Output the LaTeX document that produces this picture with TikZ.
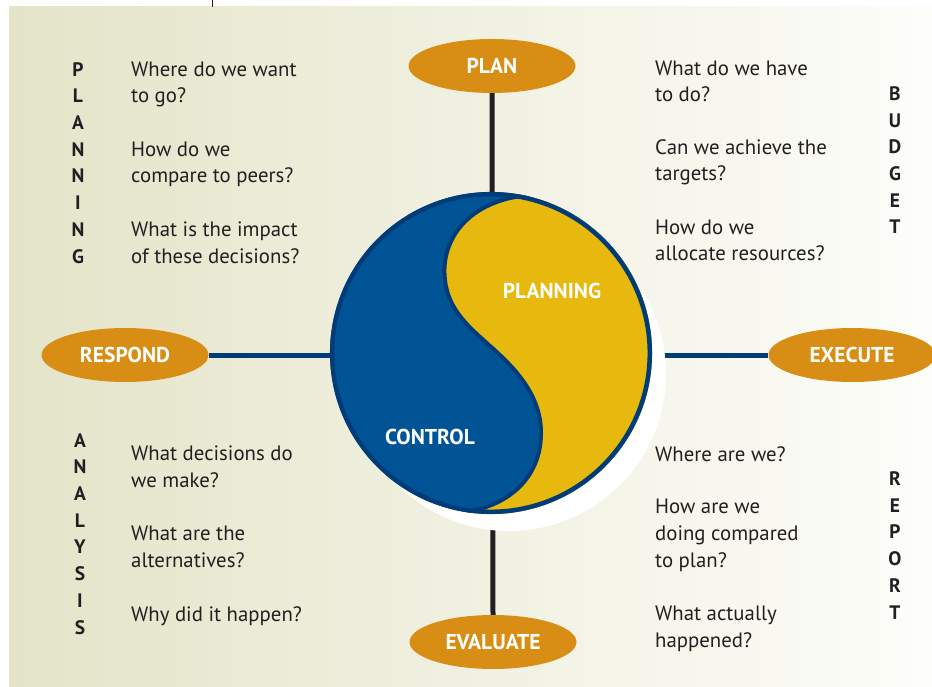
\documentclass[tikz,border=0pt]{standalone}
\usepackage{fontspec}
\setmainfont{PT Sans}
\usetikzlibrary{shapes.geometric}
\definecolor{bluec}{RGB}{0,84,150}
\definecolor{outl}{RGB}{0,61,120}
\definecolor{yellowc}{RGB}{231,184,13}
\definecolor{orangec}{RGB}{216,142,20}
\definecolor{textc}{RGB}{35,31,32}
\definecolor{bgl}{RGB}{228,228,201}
\definecolor{bgr}{RGB}{253,253,250}
\begin{document}
\begin{tikzpicture}[x=1pt,y=-1pt,
  lbl/.style={font=\bfseries\fontsize{21.5}{24}\selectfont, text=white},
  oval/.style={ellipse, fill=orangec, minimum width=167pt, minimum height=54pt, inner sep=0pt, lbl},
  qq/.style={anchor=base west, align=left, font=\fontsize{20.8}{26.7}\selectfont, text=textc, inner sep=0pt},
  col/.style={anchor=base, align=center, font=\bfseries\fontsize{19.5}{26.7}\selectfont, text=textc, inner sep=0pt},
  vline/.style={draw=textc, line width=5pt},
  hline/.style={draw=outl, line width=5pt}]
\useasboundingbox (0,0) rectangle (932,687);
\fill[white] (0,0) rectangle (932,687);
\shade[left color=bgl, right color=bgr] (9,7) rectangle (932,687);
\draw[line width=0.8pt, textc] (212,0) -- (212,7);

% ovals
\node[oval] (plan) at (492,66) {PLAN};
\node[oval] (respond) at (125,355) {RESPOND};
\node[oval] (execute) at (852,355) {EXECUTE};
\node[oval] (evaluate) at (493,642) {EVALUATE};

% connectors
\draw[vline] (plan.south) -- (evaluate.north);
\draw[hline] (respond.east) -- (execute.west);

% yin-yang circle
\fill[white] (509,374) circle[radius=157];
\fill[bluec] (491,353) circle[radius=161];
\begin{scope}
\clip (491,353) circle[radius=161];
\fill[yellowc] (530,195) .. controls (468,200) and (440,240) .. (445,280)
  .. controls (448,310) and (470,328) .. (490,346)
  .. controls (515,368) and (541,395) .. (541,433)
  .. controls (541,480) and (505,508) .. (462,512)
  -- (462,600) -- (700,600) -- (700,100) -- (530,100) -- cycle;
\draw[outl, line width=4pt] (530,195) .. controls (468,200) and (440,240) .. (445,280)
  .. controls (448,310) and (470,328) .. (490,346)
  .. controls (515,368) and (541,395) .. (541,433)
  .. controls (541,480) and (505,508) .. (462,512);
\end{scope}
\draw[outl, line width=4.5pt] (491,353) circle[radius=158.8];
\node[lbl] (planning) at (552,291) {PLANNING};
\node[lbl] (control) at (430,437) {CONTROL};

% letter columns (base = last line)
\node[col] (cplanning) at (78,263) {P\\L\\A\\N\\N\\I\\N\\G};
\node[col] (cbudget) at (895,234) {B\\U\\D\\G\\E\\T};
\node[col] (canalysis) at (80,634) {A\\N\\A\\L\\Y\\S\\I\\S};
\node[col] (creport) at (895,619) {R\\E\\P\\O\\R\\T};

% questions (base = last line)
\node[qq] (q1) at (131,103) {Where do we want\\to go?};
\node[qq] (q2) at (131,183) {How do we\\compare to peers?};
\node[qq] (q3) at (131,263) {What is the impact\\of these decisions?};
\node[qq] (q4) at (655,102) {What do we have\\to do?};
\node[qq] (q5) at (655,181) {Can we achieve the\\targets?};
\node[qq] (q6) at (655,261) {How do we\\allocate resources?};
\node[qq] (q7) at (131,487) {What decisions do\\we make?};
\node[qq] (q8) at (131,567) {What are the\\alternatives?};
\node[qq] (q9) at (131,621) {Why did it happen?};
\node[qq] (q10) at (655,461) {Where are we?};
\node[qq] (q11) at (655,567) {How are we\\doing compared\\to plan?};
\node[qq] (q12) at (655,647) {What actually\\happened?};
\end{tikzpicture}
\end{document}
